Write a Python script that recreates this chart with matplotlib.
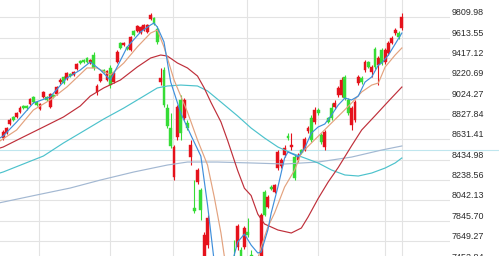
import matplotlib
matplotlib.use("Agg")
import matplotlib.pyplot as plt
import numpy as np

# daily candles, oldest first (red = close above open, green = close below open)
OPEN = [8645, 8693, 8780, 8848, 8848, 8896, 8954, 8950, 8973, 9041,
        8992, 8925, 9041, 9041, 8944, 9060, 9070, 9185, 9234, 9214,
        9263, 9253, 9311, 9388, 9398, 9417, 9369, 9446, 9089, 9195,
        9301, 9205, 9321, 9185, 9379, 9562, 9543, 9523, 9494, 9678,
        9678, 9658, 9687, 9668, 9794, 9803, 9697, 9185, 9301, 8934,
        8741, 8268, 8655, 9012, 8838, 8790, 8461, 7969, 8220, 8143,
        7448, 7612, 7480, 7360, 7150, 7300, 7120, 7250, 7400, 7480,
        7593, 7564, 7593, 7738, 7520, 7400, 7480, 7470, 8124, 7979,
        8172, 8124, 8355, 8375, 8481, 8664, 8558, 8461, 8433, 8529,
        8529, 8712, 8838, 8799, 8915, 8674, 8558, 8838, 8934, 8944,
        9060, 9060, 9234, 9012, 8770, 8819, 9176, 9224, 9301, 9379,
        9282, 9504, 9350, 9494, 9379, 9465, 9562, 9658, 9658, 9707]
HIGH = [8720, 8755, 8835, 8860, 8900, 8950, 8965, 8960, 9035, 9055,
        9000, 8985, 9100, 9050, 9080, 9070, 9150, 9225, 9245, 9285,
        9275, 9295, 9370, 9400, 9410, 9430, 9410, 9475, 9166, 9275,
        9315, 9305, 9350, 9285, 9494, 9575, 9575, 9535, 9630, 9690,
        9740, 9730, 9750, 9750, 9851, 9815, 9726, 9321, 9330, 8973,
        8886, 8577, 8963, 9060, 9031, 8819, 8626, 8239, 8355, 8162,
        7738, 7902, 7500, 7400, 7320, 7330, 7300, 7420, 7450, 7660,
        7815, 7590, 7795, 7873, 7560, 7500, 7520, 7921, 8140, 8090,
        8190, 8200, 8529, 8450, 8577, 8693, 8693, 8481, 8500, 8540,
        8650, 8761, 8867, 8944, 8930, 8690, 8722, 8850, 8983, 9012,
        9147, 9234, 9253, 9031, 8954, 9012, 9253, 9240, 9398, 9390,
        9350, 9523, 9436, 9514, 9514, 9580, 9630, 9707, 9678, 9851]
LOW = [8630, 8680, 8770, 8810, 8835, 8885, 8925, 8920, 8960, 8980,
       8950, 8915, 9030, 9000, 8935, 9030, 9060, 9170, 9165, 9205,
       9235, 9245, 9300, 9360, 9370, 9370, 9360, 9301, 9060, 9185,
       9270, 9195, 9128, 9175, 9370, 9505, 9535, 9495, 9485, 9630,
       9668, 9650, 9680, 9660, 9785, 9735, 9552, 9156, 8944, 8741,
       8548, 8239, 8626, 8626, 8819, 8722, 8384, 7921, 8200, 7853,
       7410, 7580, 7300, 7150, 7100, 7080, 7050, 7200, 7250, 7350,
       7564, 7450, 7570, 7689, 7380, 7330, 7380, 7440, 7890, 7965,
       8140, 8110, 8336, 8360, 8461, 8626, 8529, 8239, 8413, 8490,
       8515, 8693, 8606, 8780, 8870, 8590, 8529, 8785, 8819, 8925,
       9041, 9041, 9012, 8867, 8722, 8799, 9156, 9170, 9282, 9320,
       9234, 9311, 9156, 9350, 9359, 9446, 9550, 9639, 9600, 9687]
CLOSE = [8703, 8741, 8819, 8819, 8886, 8934, 8934, 8930, 9021, 8992,
         8963, 8973, 9089, 9012, 9070, 9041, 9137, 9205, 9176, 9272,
         9243, 9282, 9359, 9369, 9379, 9379, 9398, 9321, 9147, 9263,
         9282, 9292, 9156, 9272, 9475, 9514, 9562, 9504, 9620, 9639,
         9726, 9716, 9736, 9736, 9832, 9745, 9572, 9224, 8963, 8761,
         8568, 8558, 8944, 8693, 9012, 8741, 8577, 7940, 8336, 7950,
         7709, 7873, 7350, 7200, 7280, 7150, 7250, 7380, 7300, 7380,
         7795, 7487, 7776, 7709, 7420, 7470, 7420, 7902, 7902, 8075,
         8153, 8191, 8510, 8433, 8548, 8645, 8577, 8259, 8481, 8500,
         8635, 8741, 8626, 8915, 8886, 8606, 8703, 8799, 8838, 8983,
         9128, 9205, 9031, 8886, 8934, 8992, 9234, 9185, 9379, 9330,
         9330, 9330, 9417, 9369, 9494, 9562, 9610, 9687, 9620, 9813]

# moving average lines at selected candle positions
MA5_X = [-1, 0, 4, 9, 14, 19, 23, 26, 29, 32, 34, 37, 41, 44, 45, 46, 48, 50, 53, 56,
         59, 61, 63, 66, 68, 70, 72, 74, 76, 77, 79, 80, 82, 84, 85, 87, 88, 90, 92, 94,
         96, 98, 100, 102, 104, 106, 108, 110, 112, 113, 115, 117, 119]
MA5_Y = [8645, 8664, 8799, 8983, 9041, 9224, 9301, 9379, 9301, 9205, 9330, 9523, 9668,
         9736, 9755, 9716, 9572, 9185, 8886, 8674, 8470, 7998, 7448, 7250, 7400, 7641,
         7718, 7612, 7535, 7544, 7757, 7921, 8172, 8452, 8510, 8481, 8461, 8548, 8693,
         8751, 8780, 8867, 8963, 9031, 9012, 9050, 9185, 9234, 9350, 9369, 9446, 9552, 9658]
MA10_X = [-1, 4, 9, 14, 19, 25, 28, 32, 36, 40, 44, 46, 48, 51, 55, 58, 61, 63, 65, 66,
          68, 72, 76, 77, 79, 81, 84, 87, 89, 92, 95, 98, 101, 104, 107, 110, 112, 114,
          117, 119]
MA10_Y = [8616, 8722, 8915, 9012, 9137, 9321, 9321, 9253, 9369, 9523, 9658, 9687, 9523,
          9205, 8896, 8626, 8384, 8075, 7728, 7506, 7420, 7440, 7480, 7593, 7786, 7921,
          8172, 8336, 8500, 8597, 8693, 8790, 8886, 8983, 9089, 9156, 9176, 9330, 9446, 9514]
MA20_X = [-1, 0, 6, 12, 18, 23, 26, 30, 35, 40, 44, 47, 49, 52, 55, 58, 60, 62, 65, 67,
          70, 72, 74, 76, 78, 82, 86, 89, 91, 94, 97, 100, 104, 107, 111, 115, 119]
MA20_Y = [8548, 8558, 8655, 8751, 8848, 8954, 9050, 9128, 9205, 9330, 9417, 9446, 9436,
          9369, 9321, 9243, 9128, 8990, 8800, 8620, 8330, 8160, 8090, 7910, 7815, 7757,
          7728, 7776, 7882, 8060, 8220, 8360, 8570, 8722, 8860, 9000, 9137]
MA60_X = [-1, 0, 6, 12, 18, 24, 30, 36, 42, 46, 49, 53, 58, 61, 65, 70, 74, 78, 82, 86,
          90, 94, 98, 102, 106, 110, 114, 117, 119]
MA60_Y = [8307, 8317, 8394, 8471, 8597, 8712, 8828, 8934, 9050, 9128, 9147, 9156, 9147,
          9099, 8992, 8857, 8741, 8645, 8558, 8500, 8452, 8404, 8336, 8288, 8278, 8307,
          8355, 8404, 8452]
MA120_X = [-1, 10, 20, 29, 39, 49, 55, 64, 74, 84, 94, 104, 113, 119]
MA120_Y = [8020, 8095, 8162, 8239, 8317, 8384, 8413, 8413, 8404, 8394, 8413, 8461, 8529, 8568]

REF_LEVEL = 8529  # light horizontal line across the chart

# price scale on the right
LEVEL_LABELS = ["9809.98", "9613.55", "9417.12", "9220.69", "9024.27", "8827.84",
                "8631.41", "8434.98", "8238.56", "8042.13", "7845.70", "7649.27",
                "7452.84"]

# month separators (candle positions)
MONTH_LINES = [10.7, 31.9, 50.7, 72.8, 94.0, 114.0, 119.0]

UP = "#e5121c"
DOWN = "#36dc36"

fig = plt.figure(figsize=(4.99, 2.56), dpi=100)
ax = fig.add_axes([0, 0, 450 / 499, 1])
for s in ax.spines.values():
    s.set_visible(False)
ax.set_xticks([])
ax.set_yticks([])

ax.set_xlim(-0.955, 133.37)
ax.set_ylim(7506, 9977)

levels = [float(t) for t in LEVEL_LABELS]
for lv in levels:
    ax.axhline(lv, color="#e3e3e3", lw=0.8, zorder=0)
for mx in MONTH_LINES:
    ax.axvline(mx, color="#e3e3e3", lw=0.8, zorder=0)

ax.axhline(REF_LEVEL, xmin=0, xmax=499 / 450, color="#bfe6ee", lw=0.8,
           clip_on=False, zorder=1)

o = np.array(OPEN, dtype=float)
h = np.array(HIGH, dtype=float)
l = np.array(LOW, dtype=float)
c = np.array(CLOSE, dtype=float)
xs = np.arange(len(o))
colors = [UP if cc >= oo else DOWN for oo, cc in zip(o, c)]

ax.vlines(xs, l, h, colors=colors, lw=0.8, zorder=2)
body_bottom = np.minimum(o, c)
body_h = np.maximum(np.abs(c - o), 14)
ax.bar(xs, body_h, bottom=body_bottom, width=0.86, color=colors,
       edgecolor=colors, linewidth=0.3, zorder=3)

ax.plot(MA120_X, MA120_Y, color="#a3b8d2", lw=0.85, zorder=4)
ax.plot(MA60_X, MA60_Y, color="#4cc2cc", lw=0.85, zorder=4)
ax.plot(MA20_X, MA20_Y, color="#bf2f3a", lw=0.85, zorder=4)
ax.plot(MA10_X, MA10_Y, color="#e3a27e", lw=0.85, zorder=4)
ax.plot(MA5_X, MA5_Y, color="#3f8fdc", lw=0.85, zorder=5)

for lab, lv in zip(LEVEL_LABELS, levels):
    ax.text(452 / 450, lv, lab, transform=ax.get_yaxis_transform(),
            ha="left", va="bottom", fontsize=6.4, color="#2a2a2a",
            family="Liberation Sans", clip_on=False)

fig.savefig("out.png", dpi=100)
